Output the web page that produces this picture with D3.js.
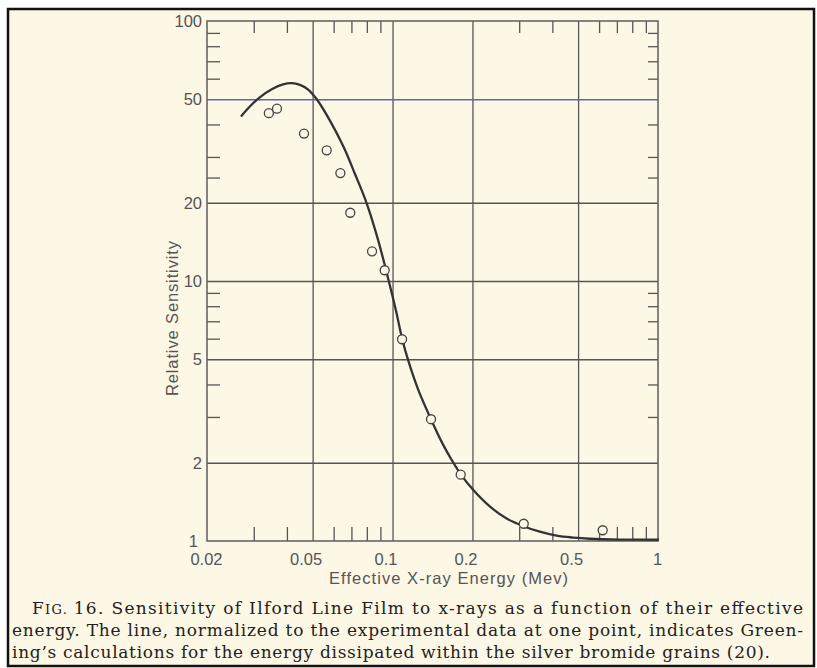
<!DOCTYPE html>
<html>
<head>
<meta charset="utf-8">
<script src="https://cdn.jsdelivr.net/npm/d3@7"></script>
<style>
  body { margin: 0; background: #fff; }
  svg { display: block; }
</style>
</head>
<body>
<script>
// ticks and labels
var xMajor = [0.02, 0.05, 0.1, 0.2, 0.5, 1],
    xMinor = [0.03, 0.04, 0.06, 0.07, 0.08, 0.09, 0.3, 0.4, 0.6, 0.7, 0.8, 0.9],
    xGrid = [0.05, 0.1, 0.2, 0.5],
    yMajor = [1, 2, 5, 10, 20, 50, 100],
    yMinor = [90, 80, 70, 60, 40, 30, 25, 9, 8, 7, 6, 4, 3],
    yGrid = [2, 5, 10, 20, 50];

// measured points (Mev, relative sensitivity)
var measEnergy = [0.0342, 0.0367, 0.0464, 0.0565, 0.0636, 0.0693, 0.0837, 0.0934, 0.1086, 0.1396, 0.1806, 0.312, 0.619],
    measSens   = [44.2, 46.0, 36.9, 31.8, 26.0, 18.3, 13.0, 11.0, 5.97, 2.94, 1.80, 1.165, 1.10];

// Greening's calculation, the solid line
var calcEnergy = [0.0270, 0.0290, 0.0317, 0.0352, 0.0387, 0.0418, 0.0448, 0.0481, 0.0519, 0.0581,
                  0.0653, 0.0722, 0.0799, 0.0882, 0.0972, 0.1031, 0.1088, 0.1144, 0.1247, 0.1396,
                  0.1536, 0.1675, 0.1811, 0.2015, 0.233, 0.269, 0.311, 0.359, 0.415, 0.480,
                  0.554, 0.719, 1.0],
    calcSens   = [43.2, 46.9, 51.0, 54.8, 57.1, 57.7, 56.8, 54.5, 49.9, 41.4,
                  32.9, 25.8, 19.9, 14.4, 9.83, 7.67, 5.97, 4.97, 3.84, 2.94,
                  2.39, 2.04, 1.80, 1.57, 1.355, 1.22, 1.14, 1.086, 1.048, 1.03,
                  1.02, 1.013, 1.011];

var caption = [
  "16. Sensitivity of Ilford Line Film to x-rays as a function of their effective",
  "energy. The line, normalized to the experimental data at one point, indicates Green-",
  "ing\u2019s calculations for the energy dissipated within the silver bromide grains (20)."
];

(function () {
    var W = 817, H = 668,
        pl = 207, pr = 658, pt = 21, pb = 541,
        ink = '#555',
        paper = '#fdf7e5';

    var svg = d3.select('body').append('svg')
        .attr('width', W)
        .attr('height', H);

    svg.append('rect')
        .attr('x', 8).attr('y', 9)
        .attr('width', 806).attr('height', 657)
        .attr('fill', paper)
        .attr('stroke', '#111')
        .attr('stroke-width', 2.5);

    var x = d3.scaleLog().domain([0.02, 1]).range([pl, pr]),
        y = d3.scaleLog().domain([1, 100]).range([pb, pt]);

    function clean(g) {
        g.select('.domain').remove();
        g.selectAll('line').attr('stroke', ink).attr('stroke-width', 1.3);
        g.selectAll('text').attr('fill', ink);
    }

    // grid
    svg.append('g')
        .attr('transform', 'translate(0,' + pb + ')')
        .call(d3.axisBottom(x).tickValues(xGrid).tickSize(-(pb - pt)).tickFormat(''))
        .call(clean);

    svg.append('g')
        .attr('transform', 'translate(' + pl + ',0)')
        .call(d3.axisLeft(y).tickValues(yGrid).tickSize(-(pr - pl)).tickFormat(''))
        .call(clean)
        .selectAll('.tick line')
        .filter(function (d) { return d === 50; })
        .attr('stroke', '#5a6a9c');

    // minor ticks on all four sides
    svg.append('g')
        .attr('transform', 'translate(0,' + pb + ')')
        .call(d3.axisBottom(x).tickValues(xMinor).tickSize(-14).tickFormat(''))
        .call(clean);
    svg.append('g')
        .attr('transform', 'translate(0,' + pt + ')')
        .call(d3.axisTop(x).tickValues(xMinor).tickSize(-12).tickFormat(''))
        .call(clean);
    svg.append('g')
        .attr('transform', 'translate(' + pl + ',0)')
        .call(d3.axisLeft(y).tickValues(yMinor).tickSize(-13).tickFormat(''))
        .call(clean);
    svg.append('g')
        .attr('transform', 'translate(' + pr + ',0)')
        .call(d3.axisRight(y).tickValues(yMinor).tickSize(-10).tickFormat(''))
        .call(clean);

    // frame
    svg.append('rect')
        .attr('x', pl).attr('y', pt)
        .attr('width', pr - pl).attr('height', pb - pt)
        .attr('fill', 'none')
        .attr('stroke', '#666')
        .attr('stroke-width', 1.6);

    // tick labels
    var xAxis = svg.append('g')
        .attr('transform', 'translate(0,' + pb + ')')
        .call(d3.axisBottom(x).tickValues(xMajor).tickSize(0).tickPadding(12)
            .tickFormat(function (d) { return String(d); }))
        .call(clean);
    xAxis.selectAll('text')
        .attr('font-family', 'Liberation Sans, Arial, sans-serif')
        .attr('font-size', 16.5)
        .attr('dx', function (d, i) { return (i === 0 || i === xMajor.length - 1) ? -1 : -7; });

    var yAxis = svg.append('g')
        .attr('transform', 'translate(' + pl + ',0)')
        .call(d3.axisLeft(y).tickValues(yMajor).tickSize(0).tickPadding(5)
            .tickFormat(function (d) { return String(d); }))
        .call(clean);
    yAxis.selectAll('text')
        .attr('font-family', 'Liberation Sans, Arial, sans-serif')
        .attr('font-size', 16.5)
        .attr('dx', function (d) { return d === 1 ? -4 : 0; });

    // axis titles
    svg.append('text')
        .attr('x', 329).attr('y', 584)
        .attr('font-family', 'Liberation Sans, Arial, sans-serif')
        .attr('font-size', 16.5)
        .attr('fill', ink)
        .attr('textLength', 239)
        .attr('lengthAdjust', 'spacing')
        .text('Effective  X-ray  Energy (Mev)');

    svg.append('text')
        .attr('transform', 'translate(178,396) rotate(-90)')
        .attr('font-family', 'Liberation Sans, Arial, sans-serif')
        .attr('font-size', 16.5)
        .attr('fill', ink)
        .attr('textLength', 155)
        .attr('lengthAdjust', 'spacing')
        .text('Relative  Sensitivity');

    // calculated curve
    var line = d3.line()
        .x(function (d, i) { return x(calcEnergy[i]); })
        .y(function (d, i) { return y(calcSens[i]); })
        .curve(d3.curveCatmullRom.alpha(0.5));

    svg.append('path')
        .datum(calcEnergy)
        .attr('d', line)
        .attr('fill', 'none')
        .attr('stroke', '#333')
        .attr('stroke-width', 2.3)
        .attr('stroke-linecap', 'round');

    // measured points
    svg.append('g')
        .selectAll('circle')
        .data(measEnergy)
        .enter().append('circle')
        .attr('cx', function (d) { return x(d); })
        .attr('cy', function (d, i) { return y(measSens[i]); })
        .attr('r', 4.5)
        .attr('fill', paper)
        .attr('stroke', '#444')
        .attr('stroke-width', 1.3);

    // caption
    var cap = svg.append('g')
        .attr('font-family', 'DejaVu Serif, serif')
        .attr('font-size', 17)
        .attr('fill', '#222');

    var first = cap.append('text')
        .attr('x', 32).attr('y', 614)
        .attr('textLength', 771)
        .attr('lengthAdjust', 'spacing');
    first.append('tspan').text('F');
    first.append('tspan').attr('font-size', 13).text('IG. ');
    first.append('tspan').text(caption[0]);

    cap.append('text')
        .attr('x', 12).attr('y', 636)
        .attr('textLength', 791)
        .attr('lengthAdjust', 'spacing')
        .text(caption[1]);

    cap.append('text')
        .attr('x', 12).attr('y', 658)
        .attr('textLength', 758)
        .attr('lengthAdjust', 'spacing')
        .text(caption[2]);
}());
</script>
</body>
</html>
